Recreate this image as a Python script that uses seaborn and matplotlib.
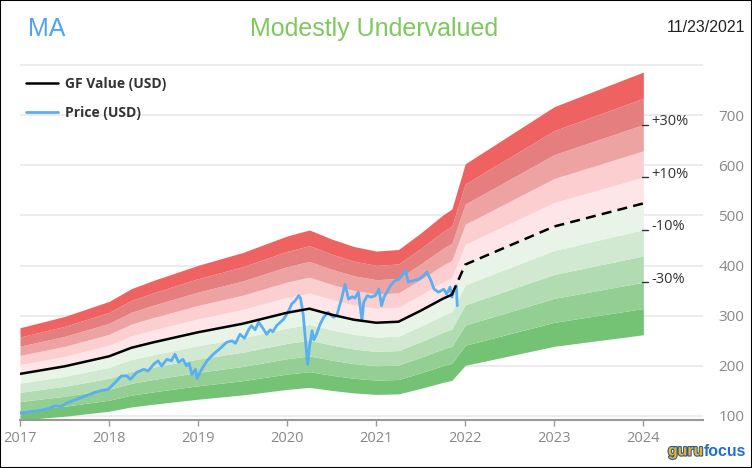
import numpy as np
import pandas as pd
import matplotlib
matplotlib.use("Agg")
import matplotlib.pyplot as plt
import matplotlib.patheffects as pe
import seaborn as sns

# ---------------- data ----------------
gf_year = [2017.0, 2017.5, 2018.0, 2018.25, 2018.5, 2019.0, 2019.5, 2020.0, 2020.25,
           2020.5, 2020.75, 2021.0, 2021.25, 2021.5, 2021.75, 2021.85]
gf_value = [184, 199, 219, 236, 247, 267, 284, 306, 314, 302, 292, 286, 288, 310, 334, 342]

gf_fc_year = [2021.85, 2022.0, 2023.0, 2024.0]
gf_fc_value = [342, 402, 478, 524]

price_year = [2017.00, 2017.08, 2017.17, 2017.25, 2017.32, 2017.39, 2017.46, 2017.54, 2017.62,
              2017.69, 2017.77, 2017.84, 2017.92, 2017.99, 2018.07, 2018.14, 2018.20, 2018.24,
              2018.31, 2018.39, 2018.44, 2018.50, 2018.55, 2018.59, 2018.65, 2018.70, 2018.74,
              2018.78, 2018.83, 2018.87, 2018.90, 2018.93, 2018.97, 2018.99, 2019.02, 2019.10,
              2019.17, 2019.25, 2019.32, 2019.38, 2019.42, 2019.47, 2019.52, 2019.57, 2019.60,
              2019.64, 2019.68, 2019.72, 2019.77, 2019.81, 2019.84, 2019.88, 2019.96, 2020.01,
              2020.05, 2020.09, 2020.13, 2020.15, 2020.18, 2020.20, 2020.23, 2020.25, 2020.28,
              2020.30, 2020.33, 2020.37, 2020.41, 2020.46, 2020.52, 2020.56, 2020.61, 2020.65,
              2020.69, 2020.73, 2020.76, 2020.80, 2020.84, 2020.86, 2020.90, 2020.94, 2020.99,
              2021.03, 2021.06, 2021.09, 2021.12, 2021.16, 2021.21, 2021.25, 2021.29, 2021.33,
              2021.36, 2021.42, 2021.48, 2021.52, 2021.57, 2021.61, 2021.65, 2021.70, 2021.76,
              2021.79, 2021.83, 2021.85, 2021.87, 2021.90, 2021.91]
price_value = [106, 108, 110, 112, 115, 120, 119, 127, 132,
               137, 142, 147, 151, 153, 167, 180, 180, 173,
               187, 193, 190, 203, 210, 200, 213, 210, 223,
               207, 213, 200, 205, 183, 193, 175, 187, 210,
               223, 235, 247, 250, 245, 263, 255, 273, 280,
               272, 287, 277, 263, 272, 268, 280, 293, 307,
               323, 330, 340, 335, 303, 263, 203, 237, 270,
               252, 263, 283, 297, 307, 297, 302, 333, 363,
               333, 338, 335, 347, 290, 327, 340, 337, 340,
               353, 320, 338, 347, 360, 370, 372, 380, 390,
               367, 370, 373, 378, 387, 372, 353, 347, 353,
               343, 357, 337, 350, 360, 320]

band_levels = [0.5, 0.6, 0.7, 0.8, 0.9, 1.0, 1.1, 1.2, 1.3, 1.4, 1.5]
band_colors = ["#74c274", "#93cf93", "#b1dcb1", "#d0e9d0", "#e9f4e9",
               "#fee6e8", "#fbcfd0", "#eea3a3", "#e57f7f", "#ef6262"]
pct_levels = [1.3, 1.1, 0.9, 0.7]
pct_labels = ["+30%", "+10%", "-10%", "-30%"]

year_ticks = [2017, 2018, 2019, 2020, 2021, 2022, 2023, 2024]
y_ticks = [100, 200, 300, 400, 500, 600, 700, 800]
y_ticklabels = ["100", "200", "300", "400", "500", "600", "700", ""]

ticker = "MA"
status = "Modestly Undervalued"
date_text = "11/23/2021"

# ---------------- plot ----------------
sns.set_theme(style="white")
plt.rcParams["font.family"] = ["Open Sans", "DejaVu Sans"]

fig = plt.figure(figsize=(7.52, 4.68), dpi=100)
ax = fig.add_axes([20 / 752, 1 - 420 / 468, (703 - 20) / 752, 360 / 468])

all_year = np.array(gf_year + gf_fc_year[1:])
all_gf = np.array(gf_value + gf_fc_value[1:], dtype=float)
for i in range(len(band_colors)):
    ax.fill_between(all_year, all_gf * band_levels[i], all_gf * band_levels[i + 1],
                    color=band_colors[i], linewidth=0, zorder=1)

for yv in y_ticks:
    ax.axhline(yv, color="#e9e9e9", lw=1.2, zorder=0.5)

df_price = pd.DataFrame({"year": price_year, "value": price_value})
df_gf = pd.DataFrame({"year": gf_year, "value": gf_value})
df_fc = pd.DataFrame({"year": gf_fc_year, "value": gf_fc_value})

sns.lineplot(data=df_price, x="year", y="value", ax=ax, color="#5aaef2", lw=2.0,
             zorder=3, label="Price (USD)", estimator=None, sort=False)
sns.lineplot(data=df_gf, x="year", y="value", ax=ax, color="black", lw=1.8,
             zorder=4, label="GF Value (USD)", estimator=None, sort=False)
sns.lineplot(data=df_fc, x="year", y="value", ax=ax, color="black", lw=1.8,
             zorder=4, estimator=None, sort=False, linestyle=(0, (4, 2.5)))

last = gf_fc_value[-1]
for lvl, lab in zip(pct_levels, pct_labels):
    v = last * lvl
    ax.plot([2023.98, 2024.05], [v, v], color="#333333", lw=1.0, zorder=5, clip_on=False)
    ax.text(2024.09, v + 6, lab, color="#333333", fontsize=10.5, va="center", ha="left",
            zorder=5)

ax.set_xlim(2017, 2024.67)
ax.set_ylim(92, 810)
ax.set_xticks(year_ticks)
ax.set_xticklabels([str(y) for y in year_ticks])
ax.set_yticks(y_ticks)
ax.set_yticklabels(y_ticklabels)
ax.yaxis.tick_right()
ax.tick_params(axis="y", length=0, pad=11, labelsize=11, labelcolor="#888888")
ax.tick_params(axis="x", length=4, width=1, color="#999999", pad=4, labelsize=10.5,
               labelcolor="#888888", bottom=True)
ax.set_xlabel("")
ax.set_ylabel("")
for s in ["left", "right", "top"]:
    ax.spines[s].set_visible(False)
ax.spines["bottom"].set_color("#999999")
ax.spines["bottom"].set_linewidth(1.5)
ax.grid(False)

h, l = ax.get_legend_handles_labels()
order = [l.index("GF Value (USD)"), l.index("Price (USD)")]
leg = ax.legend([h[i] for i in order], [l[i] for i in order], loc="upper left",
                bbox_to_anchor=(26 / 752, 1 - 77 / 468), bbox_transform=fig.transFigure,
                frameon=False, handlelength=2.3, handletextpad=0.5, labelspacing=1.05,
                borderpad=0, borderaxespad=0, prop={"size": 10, "weight": "bold"})
for t in leg.get_texts():
    t.set_color("#333333")

fig.text(28 / 752, 1 - 29 / 468, ticker, color="#4da3f5", fontsize=18,
         family="Liberation Sans", va="center", ha="left")
fig.text(374 / 752, 1 - 29 / 468, status, color="#7dc95e", fontsize=18,
         family="Liberation Sans", va="center", ha="center")
fig.text(745 / 752, 1 - 27 / 468, date_text, color="#222222", fontsize=11.5,
         family="Liberation Sans", va="center", ha="right")

# gurufocus logo (fit into ~80 px at the bottom right)
renderer = fig.canvas.get_renderer()
probe1 = fig.text(0, 0, "guru", fontsize=14, fontweight="bold", family="Liberation Sans")
probe2 = fig.text(0, 0, "focus", fontsize=14, fontweight="bold", family="Liberation Sans")
w_total = (probe1.get_window_extent(renderer).width + probe2.get_window_extent(renderer).width)
probe1.remove()
probe2.remove()
logo_fs = 14 * 78 / w_total
t1 = fig.text(668 / 752, 1 - 451 / 468, "guru", color="#f9b208", fontsize=logo_fs,
              fontweight="bold", family="Liberation Sans", va="center", ha="left")
t1.set_path_effects([pe.withStroke(linewidth=1.6, foreground="#1f5fb0")])
bb = t1.get_window_extent(renderer=renderer)
fig.text(bb.x1 / fig.bbox.width, 1 - 451 / 468, "focus", color="#1f6fd0", fontsize=logo_fs,
         fontweight="bold", family="Liberation Sans", va="center", ha="left")

fig.patches.append(plt.Rectangle((0, 0), 1, 1, transform=fig.transFigure, fill=False,
                                 edgecolor="black", lw=1.5, zorder=10))

fig.savefig("out.png", dpi=100)
